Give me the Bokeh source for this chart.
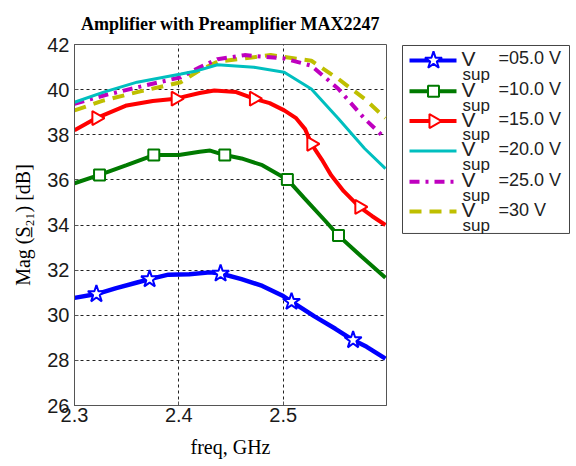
import numpy as np
from bokeh.plotting import figure
from bokeh.layouts import row
from bokeh.models import Range1d, FixedTicker, ColumnDataSource
from bokeh.core.properties import value
from bokeh.embed import file_html
from bokeh.resources import INLINE

# ---------------- data ----------------
x_v05 = [2.3, 2.321, 2.34, 2.36, 2.372, 2.39, 2.41, 2.43, 2.44, 2.46, 2.48, 2.50, 2.508, 2.53, 2.55, 2.567, 2.58, 2.598]
y_v05 = [30.77, 30.94, 31.2, 31.45, 31.6, 31.8, 31.82, 31.9, 31.85, 31.6, 31.3, 30.85, 30.6, 29.95, 29.4, 28.9, 28.6, 28.08]

x_v10 = [2.3, 2.324, 2.35, 2.376, 2.4, 2.42, 2.43, 2.444, 2.46, 2.48, 2.504, 2.52, 2.54, 2.553, 2.575, 2.598]
y_v10 = [35.85, 36.22, 36.65, 37.1, 37.1, 37.25, 37.3, 37.1, 36.95, 36.65, 36.02, 35.2, 34.2, 33.53, 32.6, 31.66]

x_v15 = [2.3, 2.321, 2.35, 2.375, 2.397, 2.42, 2.434, 2.455, 2.472, 2.487, 2.501, 2.512, 2.521, 2.527, 2.537, 2.546, 2.558, 2.573, 2.585, 2.598]
y_v15 = [38.2, 38.74, 39.3, 39.5, 39.6, 39.85, 39.96, 39.89, 39.6, 39.4, 39.08, 38.75, 38.25, 37.6, 36.9, 36.2, 35.5, 34.8, 34.4, 34.0]

x_v20 = [2.3, 2.328, 2.36, 2.402, 2.418, 2.437, 2.472, 2.501, 2.527, 2.553, 2.578, 2.598]
y_v20 = [39.44, 39.89, 40.33, 40.69, 40.84, 41.1, 40.99, 40.77, 40.03, 38.71, 37.39, 36.5]

x_v25 = [2.3, 2.328, 2.36, 2.402, 2.42, 2.437, 2.463, 2.501, 2.527, 2.553, 2.578, 2.598]
y_v25 = [39.37, 39.74, 40.1, 40.55, 40.99, 41.35, 41.53, 41.38, 41.06, 40.03, 38.71, 37.83]

x_v30 = [2.3, 2.328, 2.36, 2.402, 2.418, 2.437, 2.488, 2.527, 2.553, 2.578, 2.598]
y_v30 = [39.08, 39.52, 39.89, 40.33, 40.8, 41.24, 41.53, 41.28, 40.47, 39.59, 38.74]

mx_v05 = [2.321, 2.372, 2.44, 2.508, 2.567]
my_v05 = [30.94, 31.6, 31.85, 30.6, 28.9]
mx_v10 = [2.324, 2.376, 2.444, 2.504, 2.553]
my_v10 = [36.22, 37.1, 37.1, 36.02, 33.53]
mx_v15 = [2.321, 2.397, 2.472, 2.527, 2.573]
my_v15 = [38.74, 39.6, 39.6, 37.6, 34.8]

legend_values = ["05.0", "10.0", "15.0", "20.0", "25.0", "30"]
x_ticks = [2.3, 2.4, 2.5]
y_ticks = [26, 28, 30, 32, 34, 36, 38, 40, 42]

# ---------------- styles ----------------
C_BLUE = "#0000FF"
C_GREEN = "#007A00"
C_RED = "#FF0000"
C_CYAN = "#00BFBF"
C_MAG = "#BF00BF"
C_YEL = "#BFBF00"

SANS = "Liberation Sans"
SERIF = "Liberation Serif"

TOP, BOTTOM = 42, 61
H = 466

p = figure(width=396, height=H, output_backend="svg", toolbar_location=None,
           x_range=Range1d(2.3, 2.599), y_range=Range1d(26, 42),
           min_border_left=74, min_border_right=10, min_border_top=TOP, min_border_bottom=BOTTOM,
           title="Amplifier with Preamplifier MAX2247")
p.background_fill_color = "white"
p.border_fill_color = "white"
p.outline_line_color = "#555555"
p.outline_line_width = 1

p.title.text_font = SERIF
p.title.text_font_style = "bold"
p.title.text_font_size = "18px"
p.title.align = "center"
p.title.offset = 12
p.title.standoff = 22
p.title.text_color = "black"

for ax in (p.xaxis[0], p.yaxis[0]):
    ax.major_label_text_font = SANS
    ax.major_label_text_font_size = "20px"
    ax.major_label_text_color = "#1a1a1a"
    ax.axis_label_text_font = SERIF
    ax.axis_label_text_font_style = "normal"
    ax.axis_label_text_font_size = "20px"
    ax.axis_label_text_color = "black"
    ax.axis_line_color = "#555555"
    ax.major_tick_in = 4
    ax.major_tick_out = 0
    ax.minor_tick_in = 0
    ax.minor_tick_out = 0
    ax.major_tick_line_color = "#555555"

p.xaxis[0].ticker = FixedTicker(ticks=x_ticks)
p.yaxis[0].ticker = FixedTicker(ticks=y_ticks)
p.xaxis[0].axis_label = "freq, GHz"
p.yaxis[0].axis_label = "Mag (S\u0332\u2082\u2081) [dB]"
p.xaxis[0].major_label_standoff = 2
p.yaxis[0].major_label_standoff = 5
p.xaxis[0].axis_label_standoff = 11
p.yaxis[0].axis_label_standoff = 10

p.xgrid.grid_line_color = "#222222"
p.ygrid.grid_line_color = "#222222"
p.xgrid.grid_line_dash = "3 3"
p.ygrid.grid_line_dash = "3 3"
p.xgrid.grid_line_width = 1
p.ygrid.grid_line_width = 1

# curves
p.line(x_v30, y_v30, line_color=C_YEL, line_width=4, line_dash="12 8")
p.line(x_v25, y_v25, line_color=C_MAG, line_width=4, line_dash="10 6 3 6")
p.line(x_v20, y_v20, line_color=C_CYAN, line_width=3)
p.line(x_v15, y_v15, line_color=C_RED, line_width=4)
p.line(x_v10, y_v10, line_color=C_GREEN, line_width=4)
p.line(x_v05, y_v05, line_color=C_BLUE, line_width=4.5)

p.scatter(mx_v15, my_v15, marker="triangle", angle=-np.pi / 2, size=14,
          line_color=C_RED, fill_color="white", line_width=2)
p.scatter(mx_v10, my_v10, marker="square", size=11,
          line_color=C_GREEN, fill_color="white", line_width=2)
p.scatter(mx_v05, my_v05, marker="star", size=18,
          line_color=C_BLUE, fill_color="white", line_width=2)

# ---------------- legend panel (frame aligned with main frame; y in page pixels) ----------------
lg = figure(width=180, height=H, output_backend="svg", toolbar_location=None,
            x_axis_location=None, y_axis_location=None,
            x_range=Range1d(0, 180), y_range=Range1d(H - BOTTOM, TOP),
            min_border_left=0, min_border_right=0,
            min_border_top=TOP, min_border_bottom=BOTTOM)
lg.grid.visible = False
lg.outline_line_color = None
lg.background_fill_color = "white"
lg.border_fill_color = "white"

lg.quad(left=[6], right=[173], top=[43], bottom=[232], fill_color="white",
        line_color="#444444", line_width=1)

ent_y = [58, 89, 119, 149, 180, 210]
colors = [C_BLUE, C_GREEN, C_RED, C_CYAN, C_MAG, C_YEL]
dashes = ["solid", "solid", "solid", "solid", "10 6 3 6", "12 8"]
widths = [4, 4, 4, 3, 4, 4]
for yy, c, d, w in zip(ent_y, colors, dashes, widths):
    lg.line([13, 60], [yy, yy], line_color=c, line_width=w, line_dash=d)
lg.scatter([37], [ent_y[0]], marker="star", size=18, line_color=C_BLUE, fill_color="white", line_width=2)
lg.scatter([37], [ent_y[1]], marker="square", size=11, line_color=C_GREEN, fill_color="white", line_width=2)
lg.scatter([37], [ent_y[2]], marker="triangle", angle=-np.pi / 2, size=14, line_color=C_RED, fill_color="white", line_width=2)

src = ColumnDataSource(dict(
    yv=[v - 2 for v in ent_y],
    ys=[v + 14 for v in ent_y],
    v=["V"] * len(ent_y),
    s=["sup"] * len(ent_y),
    t=["=" + lv + " V" for lv in legend_values],
))
lg.text(x=65, y="yv", text="v", source=src, text_font=value(SANS), text_font_size="21px",
        text_baseline="middle", text_align="left", text_color="#222222")
lg.text(x=66, y="ys", text="s", source=src, text_font=value(SANS), text_font_size="17px",
        text_baseline="alphabetic", text_align="left", text_color="#222222")
lg.text(x=102, y="yv", text="t", source=src, text_font=value(SANS), text_font_size="18px",
        text_baseline="middle", text_align="left", text_color="#222222")

layout = row(p, lg, spacing=0)
open("out.html", "w").write(file_html(layout, INLINE))
